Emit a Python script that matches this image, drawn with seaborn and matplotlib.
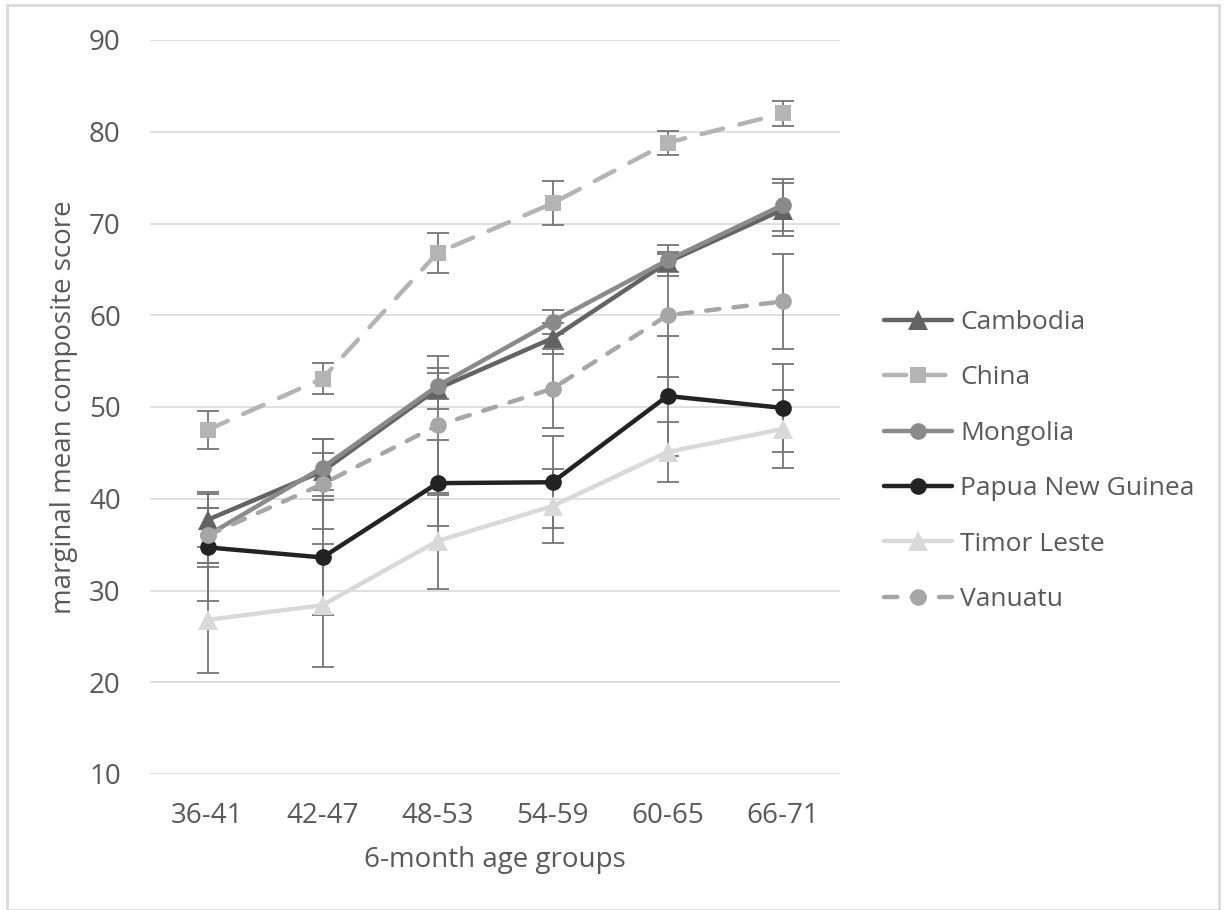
import numpy as np
import pandas as pd
import matplotlib
matplotlib.use("Agg")
import matplotlib.pyplot as plt
import seaborn as sns
from matplotlib.patches import Rectangle

age_groups = ["36-41", "42-47", "48-53", "54-59", "60-65", "66-71"]
countries = ["Cambodia", "China", "Mongolia", "Papua New Guinea", "Timor Leste", "Vanuatu"]

cambodia = [37.7, 43.0, 52.0, 57.5, 65.8, 71.5]
cambodia_err = [3.0, 2.0, 2.2, 1.7, 1.1, 2.9]
china = [47.5, 53.1, 66.8, 72.2, 78.8, 82.0]
china_err = [2.1, 1.7, 2.2, 2.4, 1.3, 1.4]
mongolia = [36.0, 43.4, 52.3, 59.3, 66.0, 72.0]
mongolia_err = [3.0, 3.1, 1.4, 1.3, 1.7, 2.8]
png = [34.7, 33.6, 41.7, 41.8, 51.2, 49.9]
png_err = [5.8, 6.3, 4.7, 5.0, 6.5, 4.8]
timor = [26.8, 28.4, 35.4, 39.2, 45.1, 47.6]
timor_err = [5.8, 6.7, 5.2, 4.0, 3.3, 4.3]
vanuatu = [36.0, 41.6, 48.0, 52.0, 60.0, 61.5]
vanuatu_err = [3.0, 4.9, 7.6, 4.3, 6.7, 5.2]

values = [cambodia, china, mongolia, png, timor, vanuatu]
errors = [cambodia_err, china_err, mongolia_err, png_err, timor_err, vanuatu_err]

rows = []
for c, vals, errs in zip(countries, values, errors):
    for i, (v, e) in enumerate(zip(vals, errs)):
        rows.append({"country": c, "x": i, "score": v, "err": e})
df = pd.DataFrame(rows)

palette = {"Cambodia": "#636363", "China": "#b4b4b4", "Mongolia": "#8a8a8a",
           "Papua New Guinea": "#232323", "Timor Leste": "#d9d9d9", "Vanuatu": "#a6a6a6"}
markers = {"Cambodia": "^", "China": "s", "Mongolia": "o",
           "Papua New Guinea": "o", "Timor Leste": "^", "Vanuatu": "o"}
dashes = {"Cambodia": "", "China": (5.0, 3.8), "Mongolia": "",
          "Papua New Guinea": "", "Timor Leste": "", "Vanuatu": (3.0, 3.2)}

sns.set_theme(style="white")
plt.rcParams["font.family"] = ["Open Sans", "DejaVu Sans"]

fig = plt.figure(figsize=(12.25, 9.1), dpi=100)
ax = fig.add_axes([150/1225, 1-774/910, 690/1225, 734/910])

# error bars
for c in countries:
    sub = df[df.country == c]
    ax.errorbar(sub["x"], sub["score"], yerr=sub["err"], fmt="none",
                ecolor="#757575", elinewidth=1.3, capsize=8, capthick=1.3, zorder=1.5)

sns.lineplot(data=df, x="x", y="score", hue="country", style="country",
             palette=palette, markers=markers, dashes=dashes, linewidth=3.2,
             markersize=12, markeredgewidth=0, sort=False, ax=ax, zorder=2)

def style_line(line):
    line.set_dash_capstyle("round")
    line.set_solid_capstyle("round")
    if line.get_marker() == "^":
        line.set_markersize(14)
    elif line.get_marker() == "s":
        line.set_markersize(11)

for line in ax.get_lines():
    style_line(line)

ax.set_xlim(-0.5, 5.5)
ax.set_ylim(10, 90)
ax.set_yticks(range(10, 91, 10))
ax.set_xticks(range(len(age_groups)))
ax.set_xticklabels(age_groups)
ax.yaxis.grid(True, color="#d9d9d9", linewidth=1.2)
ax.xaxis.grid(False)
ax.set_axisbelow(True)
for s in ax.spines.values():
    s.set_visible(False)
ax.tick_params(axis="both", length=0, labelsize=20, colors="#595959")
ax.tick_params(axis="y", pad=21)
ax.tick_params(axis="x", pad=20)
ax.set_xlabel("6-month age groups", fontsize=20, color="#595959", labelpad=12)
ax.set_ylabel("marginal mean composite score", fontsize=20, color="#595959", labelpad=8)

handles, labels = ax.get_legend_handles_labels()
for h in handles:
    style_line(h)
leg = ax.legend(handles, labels, loc="center left", bbox_to_anchor=(860/1225, 1-461/910),
                bbox_transform=fig.transFigure, frameon=False, fontsize=19,
                handlelength=2.6, labelspacing=1.15, handletextpad=0.3)
for t in leg.get_texts():
    t.set_color("#595959")

fig.patches.append(Rectangle((7/1225, 0.0), 1212/1225, 1-5/910, transform=fig.transFigure,
                             fill=False, edgecolor="#d9d9d9", linewidth=2))

fig.savefig("out.png", dpi=100)
